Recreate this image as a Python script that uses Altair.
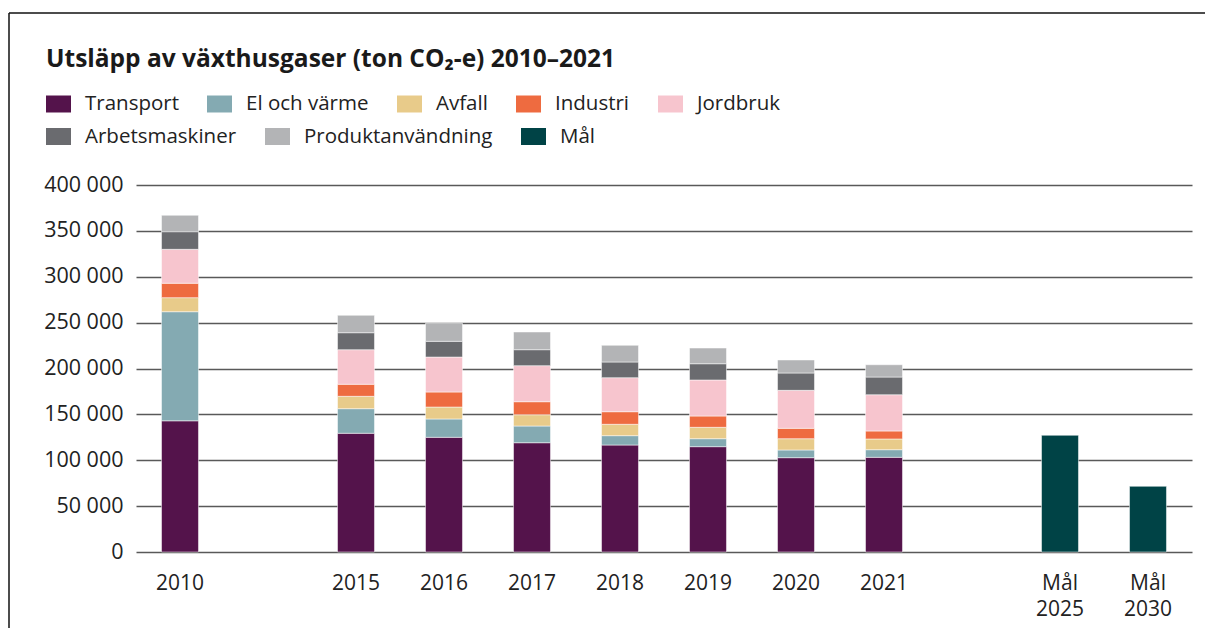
import altair as alt
import pandas as pd

# ---- data ----
years = ["2010", "2015", "2016", "2017", "2018", "2019", "2020", "2021"]
sectors = ["Transport", "El och värme", "Avfall", "Industri", "Jordbruk",
           "Arbetsmaskiner", "Produktanvändning"]
transport = [143000, 129400, 125000, 119100, 116600, 114800, 102800, 103200]
el_varme = [118900, 26800, 20000, 18200, 10200, 8700, 8400, 8300]
avfall = [15300, 13500, 13000, 12300, 12400, 12400, 12300, 11700]
industri = [15700, 13100, 16400, 14200, 13700, 12300, 11300, 8700]
jordbruk = [37000, 37700, 38100, 39300, 37100, 39300, 41400, 39500]
arbetsmaskiner = [19200, 18500, 17100, 17400, 17100, 17700, 18900, 19300]
produktanvandning = [17900, 19000, 19700, 19300, 18200, 17100, 14200, 13400]
goal_labels = ["Mål 2025", "Mål 2030"]
goal_values = [127200, 71600]
category_order = ["2010", "gap1", "2015", "2016", "2017", "2018", "2019",
                  "2020", "2021", "gap2", "Mål 2025", "Mål 2030"]
legend_names = sectors + ["Mål"]
colors = ["#54134b", "#84aab2", "#e8cb8a", "#ee6b40", "#f7c5ce",
          "#6a6b6f", "#b3b4b6", "#004346"]
legend_row1 = legend_names[:5]
legend_row2 = legend_names[5:]
y_ticks = [0, 50000, 100000, 150000, 200000, 250000, 300000, 350000, 400000]

series = [transport, el_varme, avfall, industri, jordbruk, arbetsmaskiner,
          produktanvandning]
rows = []
for si, (name, vals) in enumerate(zip(sectors, series)):
    for y, v in zip(years, vals):
        rows.append({"cat": y, "sektor": name, "varde": v, "ord": si})
for lab, v in zip(goal_labels, goal_values):
    rows.append({"cat": lab, "sektor": "Mål", "varde": v, "ord": 7})
df = pd.DataFrame(rows)

FONT = "Open Sans"
TXT = "#222222"

x_enc = alt.X("cat:N", scale=alt.Scale(domain=category_order, paddingInner=0.58,
                                       paddingOuter=0.29),
              axis=alt.Axis(title=None, domain=False, ticks=False, labelAngle=0,
                            labelFont=FONT, labelFontSize=21, labelColor=TXT,
                            labelPadding=20, labelLineHeight=26,
                            labelExpr="(datum.value == 'gap1' || datum.value == 'gap2') ? '' : split(datum.value, ' ')"))
y_enc = alt.Y("varde:Q", stack="zero",
              scale=alt.Scale(domain=[0, 400000], nice=False),
              axis=alt.Axis(title=None, values=y_ticks, domain=False, ticks=False,
                            grid=True, gridColor="#595959", gridWidth=1.3,
                            labelFont=FONT, labelFontSize=21.5, labelColor=TXT,
                            labelPadding=13,
                            labelExpr="replace(format(datum.value, ','), ',', ' ')"))
order_enc = alt.Order("ord:Q", sort="ascending")


def legend_params(ly):
    return alt.Legend(title=None, orient="none", legendX=-90, legendY=ly,
                      direction="horizontal",
                      symbolType="M-1,-0.68H1V0.68H-1Z", symbolSize=625,
                      symbolStrokeWidth=0, symbolOpacity=1,
                      labelFont=FONT, labelFontSize=20.5, labelColor=TXT,
                      labelOffset=14, columnPadding=28, padding=0,
                      labelLimit=400)


bars = alt.Chart(df).mark_bar(stroke="white", strokeWidth=0.5).encode(
    x=x_enc, y=y_enc,
    color=alt.Color("sektor:N", scale=alt.Scale(domain=legend_names, range=colors),
                    legend=None),
    order=order_enc,
)

# invisible layers that only carry the two legend rows
leg1 = alt.Chart(df).transform_filter(
    alt.FieldOneOfPredicate(field="sektor", oneOf=legend_row1)
).mark_bar(opacity=0).encode(
    x=x_enc, y=y_enc, order=order_enc,
    color=alt.Color("sektor:N", scale=alt.Scale(domain=legend_row1, range=colors[:5]),
                    legend=legend_params(-93.5)),
)
leg2 = alt.Chart(df).transform_filter(
    alt.FieldOneOfPredicate(field="sektor", oneOf=legend_row2)
).mark_bar(opacity=0).encode(
    x=x_enc, y=y_enc, order=order_enc,
    color=alt.Color("sektor:N", scale=alt.Scale(domain=legend_row2, range=colors[5:]),
                    legend=legend_params(-61)),
)

border_df = pd.DataFrame({"k": [0]})
left_line = alt.Chart(border_df).mark_rule(color="#111111", strokeWidth=1.5).encode(
    x=alt.value(-127), y=alt.value(-172), y2=alt.value(460))
top_line = alt.Chart(border_df).mark_rule(color="#111111", strokeWidth=1.5).encode(
    x=alt.value(-127), x2=alt.value(1080), y=alt.value(-172))

chart = alt.layer(leg1, leg2, bars, left_line, top_line).resolve_scale(
    color="independent"
).properties(
    width=1056, height=367,
    autosize=alt.AutoSizeParams(type="none"),
    padding={"left": 128, "top": 177, "right": 13, "bottom": 76},
    title=alt.TitleParams("Utsläpp av växthusgaser (ton CO₂-e) 2010–2021",
                          anchor="start", frame="group", dx=-90, dy=78, offset=18,
                          font=FONT, fontSize=24.5, fontWeight="bold", color="#1a1a1a"),
).configure_view(stroke=None)

chart.save("out.html", embed_options={"renderer": "svg", "actions": False})
